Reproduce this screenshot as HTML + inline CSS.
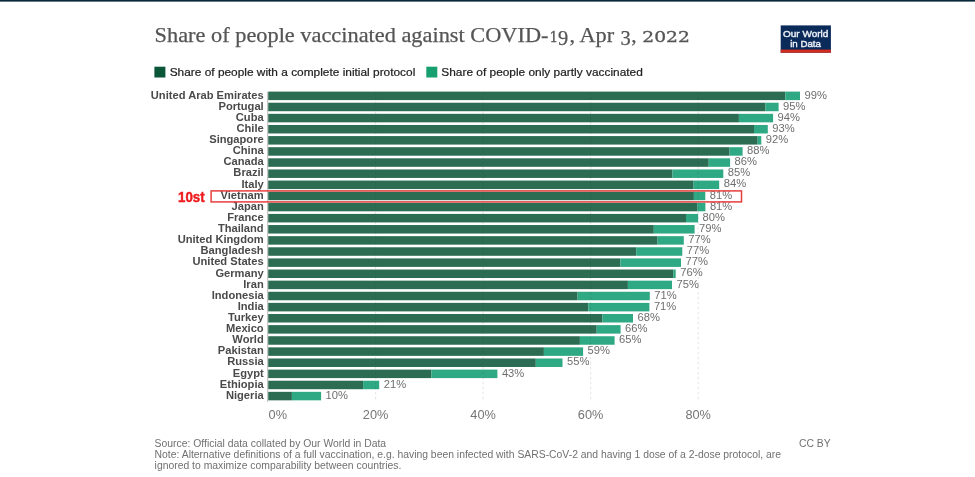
<!DOCTYPE html>
<html lang="en">
<head>
<meta charset="utf-8">
<title>Share of people vaccinated against COVID-19, Apr 3, 2022</title>
<style>
html,body{margin:0;padding:0;background:#fff;}
body{width:975px;height:477px;overflow:hidden;position:relative;font-family:"Liberation Sans",Arial,sans-serif;}
svg{position:absolute;left:0;top:0;display:block;}
.title{font-family:"Liberation Serif","DejaVu Serif",serif;font-size:21.4px;fill:#555;stroke:#555;stroke-width:0.25px;}
.title .os{font-family:"DejaVu Serif","Liberation Serif",serif;font-size:14.1px;stroke-width:0.3px;}
.title .od{font-size:20.4px;}
.leg{font-size:11.7px;fill:#222;stroke:#222;stroke-width:0.22px;}
.cn{font-size:11.15px;font-weight:700;fill:#4a4a4a;text-anchor:end;}
.val{font-size:11.2px;fill:#6e6e6e;}
.ax{font-size:12.75px;fill:#757575;}
.ft{font-size:10px;fill:#707070;}
.logo{font-size:9.9px;font-weight:400;fill:#eef2f9;stroke:#eef2f9;stroke-width:0.4px;}
.rank{font-size:14.2px;font-weight:700;fill:#ee1c1f;stroke:#ee1c1f;stroke-width:0.45px;}
</style>
</head>
<body>
<svg width="975" height="477" viewBox="0 0 975 477">
<defs>
<linearGradient id="tb" x1="0" y1="0" x2="0" y2="1">
<stop offset="0" stop-color="#06222f"/><stop offset="0.45" stop-color="#0d3144"/><stop offset="1" stop-color="#ffffff"/>
</linearGradient>
<filter id="soft" x="0" y="0" width="100%" height="100%" filterUnits="userSpaceOnUse" color-interpolation-filters="sRGB"><feGaussianBlur stdDeviation="0.45"/></filter>
</defs>
<g filter="url(#soft)">
<rect x="0" y="0" width="975" height="477" fill="#ffffff"/>
<rect x="0" y="0" width="975" height="2.3" fill="url(#tb)"/>
<text class="title" y="41.8" xml:space="preserve"><tspan x="154.6" textLength="393.9" lengthAdjust="spacingAndGlyphs">Share of people vaccinated against COVID-</tspan><tspan class="os" x="549.6" textLength="8.6" lengthAdjust="spacingAndGlyphs">1</tspan><tspan class="od" x="557.9" y="45.2" textLength="10.2" lengthAdjust="spacingAndGlyphs">9</tspan><tspan x="569.6" y="41.8" textLength="50.2" lengthAdjust="spacingAndGlyphs">, Apr </tspan><tspan class="od" x="620.6" y="45.2" textLength="10.2" lengthAdjust="spacingAndGlyphs">3</tspan><tspan x="631.2" y="41.8">, </tspan><tspan class="os" x="642.3" y="41.8" textLength="47.6" lengthAdjust="spacingAndGlyphs">2022</tspan></text>
<g><rect x="780.7" y="25.4" width="50.2" height="27.3" fill="#0a2a5a"/><rect x="780.7" y="49.6" width="50.2" height="3.1" fill="#d42b21"/><text class="logo" x="783" y="37.2" textLength="45.3" lengthAdjust="spacingAndGlyphs">Our World</text><text class="logo" x="790.2" y="47" textLength="30.8" lengthAdjust="spacingAndGlyphs">in Data</text></g>
<rect x="154.4" y="66.7" width="11" height="10.8" fill="#0b5638"/><text class="leg" x="169.7" y="76" textLength="245.6" lengthAdjust="spacingAndGlyphs">Share of people with a complete initial protocol</text>
<rect x="426.3" y="66.7" width="11" height="10.8" fill="#17a06f"/><text class="leg" x="441.3" y="76" textLength="201.5" lengthAdjust="spacingAndGlyphs">Share of people only partly vaccinated</text>
<g>
<rect x="268.2" y="91.60" width="517.2" height="8.5" fill="#2c6c52"/><rect x="785.4" y="91.60" width="14.6" height="8.5" fill="#2fa983"/><text class="cn" x="263.7" y="98.60">United Arab Emirates</text><text class="val" x="804.5" y="98.50">99%</text>
<rect x="268.2" y="102.72" width="497.3" height="8.5" fill="#2c6c52"/><rect x="765.5" y="102.72" width="13.1" height="8.5" fill="#2fa983"/><text class="cn" x="263.7" y="109.72">Portugal</text><text class="val" x="783.1" y="109.62">95%</text>
<rect x="268.2" y="113.84" width="470.7" height="8.5" fill="#2c6c52"/><rect x="738.9" y="113.84" width="34.2" height="8.5" fill="#2fa983"/><text class="cn" x="263.7" y="120.84">Cuba</text><text class="val" x="777.6" y="120.74">94%</text>
<rect x="268.2" y="124.96" width="485.8" height="8.5" fill="#2c6c52"/><rect x="754.0" y="124.96" width="13.8" height="8.5" fill="#2fa983"/><text class="cn" x="263.7" y="131.96">Chile</text><text class="val" x="772.3" y="131.86">93%</text>
<rect x="268.2" y="136.08" width="489.5" height="8.5" fill="#2c6c52"/><rect x="757.7" y="136.08" width="3.6" height="8.5" fill="#2fa983"/><text class="cn" x="263.7" y="143.08">Singapore</text><text class="val" x="765.8" y="142.98">92%</text>
<rect x="268.2" y="147.20" width="461.4" height="8.5" fill="#2c6c52"/><rect x="729.6" y="147.20" width="13.0" height="8.5" fill="#2fa983"/><text class="cn" x="263.7" y="154.20">China</text><text class="val" x="747.1" y="154.10">88%</text>
<rect x="268.2" y="158.32" width="440.5" height="8.5" fill="#2c6c52"/><rect x="708.7" y="158.32" width="21.4" height="8.5" fill="#2fa983"/><text class="cn" x="263.7" y="165.32">Canada</text><text class="val" x="734.6" y="165.22">86%</text>
<rect x="268.2" y="169.44" width="404.3" height="8.5" fill="#2c6c52"/><rect x="672.5" y="169.44" width="50.8" height="8.5" fill="#2fa983"/><text class="cn" x="263.7" y="176.44">Brazil</text><text class="val" x="727.8" y="176.34">85%</text>
<rect x="268.2" y="180.56" width="425.4" height="8.5" fill="#2c6c52"/><rect x="693.6" y="180.56" width="25.6" height="8.5" fill="#2fa983"/><text class="cn" x="263.7" y="187.56">Italy</text><text class="val" x="723.7" y="187.46">84%</text>
<rect x="268.2" y="191.68" width="425.7" height="8.5" fill="#2c6c52"/><rect x="693.9" y="191.68" width="11.4" height="8.5" fill="#2fa983"/><text class="cn" x="263.7" y="198.68">Vietnam</text><text class="val" x="709.8" y="198.58">81%</text>
<rect x="268.2" y="202.80" width="429.4" height="8.5" fill="#2c6c52"/><rect x="697.6" y="202.80" width="7.8" height="8.5" fill="#2fa983"/><text class="cn" x="263.7" y="209.80">Japan</text><text class="val" x="709.9" y="209.70">81%</text>
<rect x="268.2" y="213.92" width="417.8" height="8.5" fill="#2c6c52"/><rect x="686.0" y="213.92" width="12.1" height="8.5" fill="#2fa983"/><text class="cn" x="263.7" y="220.92">France</text><text class="val" x="702.6" y="220.82">80%</text>
<rect x="268.2" y="225.04" width="385.6" height="8.5" fill="#2c6c52"/><rect x="653.8" y="225.04" width="40.8" height="8.5" fill="#2fa983"/><text class="cn" x="263.7" y="232.04">Thailand</text><text class="val" x="699.1" y="231.94">79%</text>
<rect x="268.2" y="236.16" width="389.4" height="8.5" fill="#2c6c52"/><rect x="657.6" y="236.16" width="26.2" height="8.5" fill="#2fa983"/><text class="cn" x="263.7" y="243.16">United Kingdom</text><text class="val" x="688.3" y="243.06">77%</text>
<rect x="268.2" y="247.28" width="368.0" height="8.5" fill="#2c6c52"/><rect x="636.2" y="247.28" width="46.1" height="8.5" fill="#2fa983"/><text class="cn" x="263.7" y="254.28">Bangladesh</text><text class="val" x="686.8" y="254.18">77%</text>
<rect x="268.2" y="258.40" width="352.2" height="8.5" fill="#2c6c52"/><rect x="620.4" y="258.40" width="60.6" height="8.5" fill="#2fa983"/><text class="cn" x="263.7" y="265.40">United States</text><text class="val" x="685.5" y="265.30">77%</text>
<rect x="268.2" y="269.52" width="405.0" height="8.5" fill="#2c6c52"/><rect x="673.2" y="269.52" width="2.5" height="8.5" fill="#2fa983"/><text class="cn" x="263.7" y="276.52">Germany</text><text class="val" x="680.2" y="276.42">76%</text>
<rect x="268.2" y="280.64" width="359.7" height="8.5" fill="#2c6c52"/><rect x="627.9" y="280.64" width="44.1" height="8.5" fill="#2fa983"/><text class="cn" x="263.7" y="287.64">Iran</text><text class="val" x="676.5" y="287.54">75%</text>
<rect x="268.2" y="291.76" width="309.4" height="8.5" fill="#2c6c52"/><rect x="577.6" y="291.76" width="72.2" height="8.5" fill="#2fa983"/><text class="cn" x="263.7" y="298.76">Indonesia</text><text class="val" x="654.3" y="298.66">71%</text>
<rect x="268.2" y="302.88" width="320.2" height="8.5" fill="#2c6c52"/><rect x="588.4" y="302.88" width="61.0" height="8.5" fill="#2fa983"/><text class="cn" x="263.7" y="309.88">India</text><text class="val" x="653.9" y="309.78">71%</text>
<rect x="268.2" y="314.00" width="334.3" height="8.5" fill="#2c6c52"/><rect x="602.5" y="314.00" width="30.5" height="8.5" fill="#2fa983"/><text class="cn" x="263.7" y="321.00">Turkey</text><text class="val" x="637.5" y="320.90">68%</text>
<rect x="268.2" y="325.12" width="328.5" height="8.5" fill="#2c6c52"/><rect x="596.7" y="325.12" width="23.9" height="8.5" fill="#2fa983"/><text class="cn" x="263.7" y="332.12">Mexico</text><text class="val" x="625.1" y="332.02">66%</text>
<rect x="268.2" y="336.24" width="311.7" height="8.5" fill="#2c6c52"/><rect x="579.9" y="336.24" width="34.7" height="8.5" fill="#2fa983"/><text class="cn" x="263.7" y="343.24">World</text><text class="val" x="619.1" y="343.14">65%</text>
<rect x="268.2" y="347.36" width="275.7" height="8.5" fill="#2c6c52"/><rect x="543.9" y="347.36" width="39.2" height="8.5" fill="#2fa983"/><text class="cn" x="263.7" y="354.36">Pakistan</text><text class="val" x="587.6" y="354.26">59%</text>
<rect x="268.2" y="358.48" width="267.6" height="8.5" fill="#2c6c52"/><rect x="535.8" y="358.48" width="26.7" height="8.5" fill="#2fa983"/><text class="cn" x="263.7" y="365.48">Russia</text><text class="val" x="567.0" y="365.38">55%</text>
<rect x="268.2" y="369.60" width="163.1" height="8.5" fill="#2c6c52"/><rect x="431.3" y="369.60" width="66.1" height="8.5" fill="#2fa983"/><text class="cn" x="263.7" y="376.60">Egypt</text><text class="val" x="501.9" y="376.50">43%</text>
<rect x="268.2" y="380.72" width="94.9" height="8.5" fill="#2c6c52"/><rect x="363.1" y="380.72" width="16.1" height="8.5" fill="#2fa983"/><text class="cn" x="263.7" y="387.72">Ethiopia</text><text class="val" x="383.7" y="387.62">21%</text>
<rect x="268.2" y="391.84" width="23.7" height="8.5" fill="#2c6c52"/><rect x="291.9" y="391.84" width="29.2" height="8.5" fill="#2fa983"/><text class="cn" x="263.7" y="398.84">Nigeria</text><text class="val" x="325.6" y="398.74">10%</text>
</g>
<line x1="267.7" y1="91.8" x2="267.7" y2="402" stroke="#9a9a9a" stroke-width="0.7"/><text class="ax" x="268.6" y="419">0%</text>
<line x1="375.6" y1="91.8" x2="375.6" y2="402" stroke="#1d4a3a" stroke-opacity="0.14" stroke-width="1" stroke-dasharray="2.5,2.5"/><text class="ax" x="375.6" y="419" text-anchor="middle">20%</text>
<line x1="483.1" y1="91.8" x2="483.1" y2="402" stroke="#1d4a3a" stroke-opacity="0.14" stroke-width="1" stroke-dasharray="2.5,2.5"/><text class="ax" x="483.1" y="419" text-anchor="middle">40%</text>
<line x1="590.6" y1="91.8" x2="590.6" y2="402" stroke="#1d4a3a" stroke-opacity="0.14" stroke-width="1" stroke-dasharray="2.5,2.5"/><text class="ax" x="590.6" y="419" text-anchor="middle">60%</text>
<line x1="698.2" y1="91.8" x2="698.2" y2="402" stroke="#1d4a3a" stroke-opacity="0.14" stroke-width="1" stroke-dasharray="2.5,2.5"/><text class="ax" x="698.2" y="419" text-anchor="middle">80%</text>
<rect x="211.1" y="190.9" width="530.4" height="11.0" fill="none" stroke="#e6403c" stroke-width="1.5"/>
<text class="rank" x="178" y="201.6" textLength="26.6" lengthAdjust="spacingAndGlyphs">10st</text>
<text class="ft" transform="translate(154.6,446.9) scale(1.038,1)">Source: Official data collated by Our World in Data</text>
<text class="ft" transform="translate(154.6,457.8) scale(1.038,1)">Note: Alternative definitions of a full vaccination, e.g. having been infected with SARS-CoV-2 and having 1 dose of a 2-dose protocol, are</text>
<text class="ft" transform="translate(154.6,468.8) scale(1.038,1)">ignored to maximize comparability between countries.</text>
<text class="ft" transform="translate(799,446.9) scale(1.038,1)">CC BY</text>
</g>
</svg>
</body>
</html>
